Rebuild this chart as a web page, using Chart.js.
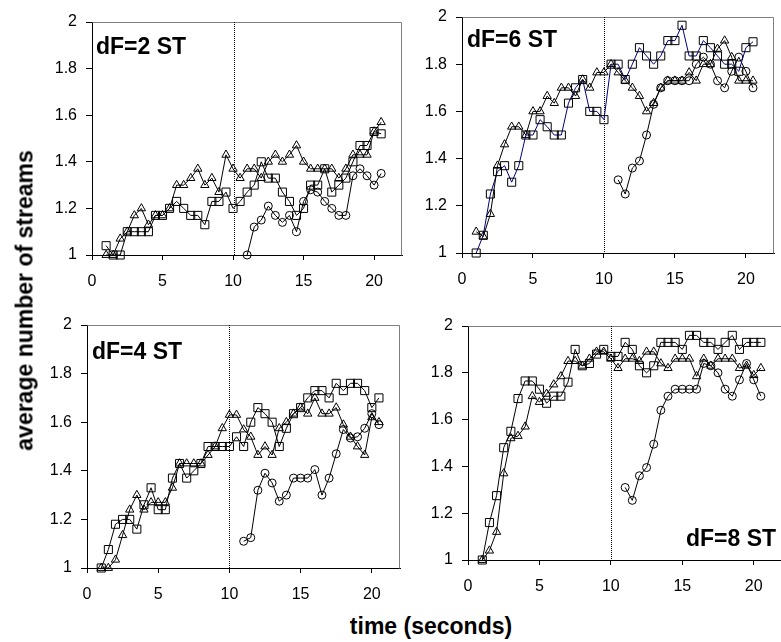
<!DOCTYPE html>
<html>
<head>
<meta charset="utf-8">
<script src="https://cdn.jsdelivr.net/npm/chart.js@4.4.1/dist/chart.umd.min.js"></script>
<style>
html,body{margin:0;padding:0;background:#fff;width:781px;height:642px;overflow:hidden;position:relative;font-family:'Liberation Sans',Arial,sans-serif;}
canvas{position:absolute;}
.lbl{position:absolute;font-weight:bold;font-size:23px;line-height:1;color:#000;white-space:nowrap;}
#xt{left:231px;top:615px;width:400px;text-align:center;}
#yt{left:-175px;top:289px;width:400px;text-align:center;transform:rotate(-90deg);}
</style>
</head>
<body>
<canvas id="c1"></canvas>
<canvas id="c2"></canvas>
<canvas id="c3"></canvas>
<canvas id="c4"></canvas>
<div class="lbl" id="yt">average number of streams</div>
<div class="lbl" id="xt">time (seconds)</div>
<div class="lbl" id="l1" style="left:96px;top:35px;">dF=2 ST</div>
<div class="lbl" id="l2" style="left:467px;top:28px;">dF=6 ST</div>
<div class="lbl" id="l3" style="left:92px;top:340px;">dF=4 ST</div>
<div class="lbl" id="l4" style="left:686px;top:527px;">dF=8 ST</div>
<script>
// ---------- data ----------
const timeAll = [1,1.5,2,2.5,3,3.5,4,4.5,5,5.5,6,6.5,7,7.5,8,8.5,9,9.5,10,10.5,
                 11,11.5,12,12.5,13,13.5,14,14.5,15,15.5,16,16.5,17,17.5,18,18.5,19,19.5,20,20.5];
const timeLate = [11,11.5,12,12.5,13,13.5,14,14.5,15,15.5,16,16.5,17,17.5,18,18.5,19,19.5,20,20.5];

const dF2_triangle = [1.0,1.0,1.07,1.1,1.17,1.2,1.13,1.17,1.17,1.2,1.3,1.3,1.33,1.37,1.3,1.33,1.27,1.43,1.37,1.33,
                      1.37,1.37,1.33,1.4,1.43,1.4,1.43,1.47,1.4,1.37,1.37,1.37,1.37,1.33,1.37,1.43,1.43,1.43,1.53,1.57];
const dF2_square   = [1.04,1.0,1.0,1.1,1.1,1.1,1.1,1.17,1.17,1.2,1.23,1.2,1.17,1.17,1.13,1.23,1.23,1.27,1.2,1.23,
                      1.27,1.3,1.4,1.33,1.33,1.27,1.23,1.17,1.2,1.3,1.3,1.37,1.27,1.3,1.33,1.4,1.47,1.47,1.53,1.52];
const dF2_circle   = [1.0,1.12,1.15,1.21,1.17,1.14,1.17,1.1,1.23,1.28,1.27,1.23,1.2,1.17,1.17,1.34,1.37,1.34,1.3,1.35];

const dF6_triangle = [1.09,1.07,1.165,1.37,1.46,1.535,1.535,1.5,1.6,1.6,1.665,1.635,1.7,1.7,1.665,1.735,1.7,1.765,1.765,1.8,
                      1.765,1.73,1.7,1.665,1.6,1.635,1.7,1.73,1.73,1.73,1.765,1.73,1.8,1.8,1.865,1.9,1.83,1.73,1.73,1.73];
const dF6_square   = [1.0,1.075,1.25,1.345,1.37,1.3,1.37,1.5,1.5,1.565,1.535,1.5,1.5,1.635,1.7,1.735,1.6,1.6,1.565,1.8,
                      1.8,1.735,1.8,1.87,1.835,1.8,1.835,1.9,1.9,1.965,1.835,1.835,1.9,1.87,1.835,1.8,1.8,1.77,1.87,1.895];
const dF6_circle   = [1.31,1.25,1.36,1.39,1.5,1.63,1.7,1.73,1.73,1.73,1.73,1.8,1.83,1.8,1.73,1.7,1.77,1.83,1.77,1.7];

const dF4_triangle = [1.0,1.0,1.034,1.135,1.24,1.3,1.24,1.27,1.27,1.27,1.33,1.43,1.43,1.43,1.43,1.465,1.5,1.575,1.63,1.63,
                      1.57,1.54,1.465,1.5,1.465,1.575,1.6,1.635,1.66,1.635,1.7,1.635,1.635,1.66,1.59,1.54,1.5,1.465,1.62,1.6];
const dF4_square   = [1.0,1.076,1.18,1.2,1.2,1.16,1.26,1.33,1.24,1.24,1.37,1.43,1.37,1.4,1.43,1.5,1.5,1.5,1.5,1.54,
                      1.5,1.6,1.66,1.635,1.6,1.5,1.575,1.635,1.66,1.7,1.73,1.73,1.7,1.76,1.73,1.76,1.76,1.73,1.66,1.7];
const dF4_circle   = [1.11,1.125,1.32,1.39,1.35,1.275,1.3,1.37,1.37,1.37,1.405,1.3,1.37,1.47,1.57,1.535,1.54,1.575,1.635,1.59];

const dF8_triangle = [1.0,1.04,1.12,1.37,1.52,1.53,1.57,1.7,1.675,1.71,1.75,1.785,1.85,1.85,1.83,1.86,1.89,1.89,1.86,1.82,
                      1.86,1.86,1.85,1.89,1.89,1.84,1.82,1.86,1.86,1.86,1.785,1.86,1.83,1.86,1.86,1.86,1.82,1.83,1.79,1.82];
const dF8_square   = [1.0,1.16,1.275,1.48,1.55,1.69,1.765,1.765,1.73,1.67,1.7,1.7,1.76,1.9,1.83,1.84,1.88,1.9,1.87,1.87,
                      1.93,1.9,1.83,1.8,1.83,1.93,1.93,1.93,1.9,1.96,1.96,1.93,1.93,1.9,1.93,1.96,1.9,1.93,1.93,1.93];
const dF8_circle   = [1.31,1.255,1.36,1.395,1.495,1.64,1.7,1.73,1.73,1.73,1.73,1.84,1.83,1.8,1.73,1.7,1.77,1.84,1.77,1.7];

const xTickValues = [0,5,10,15,20];
const xTickLabels = ['0','5','10','15','20'];
const yTickValues = [1,1.2,1.4,1.6,1.8,2];
const yTickLabels = ['1','1.2','1.4','1.6','1.8','2'];
const markerLines = [10.1, 10, 10, 10];

// ---------- layout / style ----------
const FONT = "'Liberation Sans', Arial, sans-serif";
const Y_AXIS_W = 50, X_AXIS_H = 40, PAD_T = 22, PAD_R = 6;
const panels = [
  {canvas:'c1', area:[92,22,403,255],  tri:dF2_triangle, sq:dF2_square, circ:dF2_circle, sqLine:'#000000', mark:markerLines[0], rightBorder:true},
  {canvas:'c2', area:[462,17,775,253], tri:dF6_triangle, sq:dF6_square, circ:dF6_circle, sqLine:'#000080', mark:markerLines[1], rightBorder:true},
  {canvas:'c3', area:[87,325,401,568], tri:dF4_triangle, sq:dF4_square, circ:dF4_circle, sqLine:'#000000', mark:markerLines[2], rightBorder:true},
  {canvas:'c4', area:[468,326,783,560],tri:dF8_triangle, sq:dF8_square, circ:dF8_circle, sqLine:'#000000', mark:markerLines[3], rightBorder:false}
];

const framePlugin = {
  id:'frame',
  beforeDatasetsDraw(chart, args, opts){
    const ctx = chart.ctx, a = chart.chartArea;
    ctx.save();
    ctx.strokeStyle = '#808080';
    ctx.lineWidth = 1;
    ctx.beginPath();
    ctx.moveTo(Math.round(a.left)+0.5, Math.round(a.top)+0.5);
    ctx.lineTo(Math.round(a.right)-0.5, Math.round(a.top)+0.5);
    if (opts.rightBorder) ctx.lineTo(Math.round(a.right)-0.5, Math.round(a.bottom)+0.5);
    ctx.stroke();
    const xp = Math.round(chart.scales.x.getPixelForValue(opts.mark))+0.5;
    ctx.strokeStyle = '#000';
    ctx.setLineDash([1,1]);
    ctx.beginPath();
    ctx.moveTo(xp, a.top);
    ctx.lineTo(xp, a.bottom);
    ctx.stroke();
    ctx.restore();
  }
};

function series(xs, ys){ return ys.map((v,i)=>({x:xs[i], y:v})); }

function ds(data, style, radius, lineColor){
  return {
    data, pointStyle:style, pointRadius:radius, pointHoverRadius:radius,
    borderColor:lineColor, borderWidth:1, pointBorderColor:'#000', pointBorderWidth:1,
    pointBackgroundColor:'rgba(0,0,0,0)', backgroundColor:'rgba(0,0,0,0)',
    fill:false, tension:0, clip:false
  };
}

panels.forEach(p=>{
  const [L,T,R,B] = p.area;
  const cv = document.getElementById(p.canvas);
  const w = Y_AXIS_W + (R-L) + PAD_R, h = PAD_T + (B-T) + X_AXIS_H;
  cv.width = w; cv.height = h;
  cv.style.left = (L - Y_AXIS_W) + 'px';
  cv.style.top = (T - PAD_T) + 'px';
  cv.style.width = w + 'px'; cv.style.height = h + 'px';
  new Chart(cv, {
    type:'line',
    data:{datasets:[
      ds(series(timeAll, p.tri), 'triangle', 4.8, '#000'),
      ds(series(timeAll, p.sq), 'rect', 5.7, p.sqLine),
      ds(series(timeLate, p.circ), 'circle', 4, '#000')
    ]},
    options:{
      responsive:false, animation:false, events:[], devicePixelRatio:1,
      layout:{padding:{top:PAD_T, right:PAD_R, left:0, bottom:0}},
      plugins:{legend:{display:false}, tooltip:{enabled:false}, frame:{mark:p.mark, rightBorder:p.rightBorder}},
      scales:{
        x:{type:'linear', min:0, max:22,
           afterBuildTicks:(ax)=>{ ax.ticks = xTickValues.map(v=>({value:v})); },
           ticks:{callback:(v)=>{const i = xTickValues.indexOf(v); return i<0?'':xTickLabels[i];},
                  font:{family:FONT,size:16}, color:'#000', padding:12, maxRotation:0, autoSkip:false},
           grid:{drawOnChartArea:false, drawTicks:true, tickLength:5, color:'#000', lineWidth:1},
           border:{display:true, color:'#000', width:1},
           afterFit:(ax)=>{ ax.height = X_AXIS_H; }
        },
        y:{type:'linear', min:1, max:2,
           afterBuildTicks:(ax)=>{ ax.ticks = yTickValues.map(v=>({value:v})); },
           ticks:{callback:(v)=>{const i = yTickValues.findIndex(t=>Math.abs(t-v)<1e-9); return i<0?'':yTickLabels[i];},
                  font:{family:FONT,size:16}, color:'#000', padding:9, autoSkip:false},
           grid:{drawOnChartArea:false, drawTicks:true, tickLength:6, color:'#000', lineWidth:1},
           border:{display:true, color:'#000', width:1},
           afterFit:(ax)=>{ ax.width = Y_AXIS_W; }
        }
      }
    },
    plugins:[framePlugin]
  });
});
</script>
</body>
</html>
